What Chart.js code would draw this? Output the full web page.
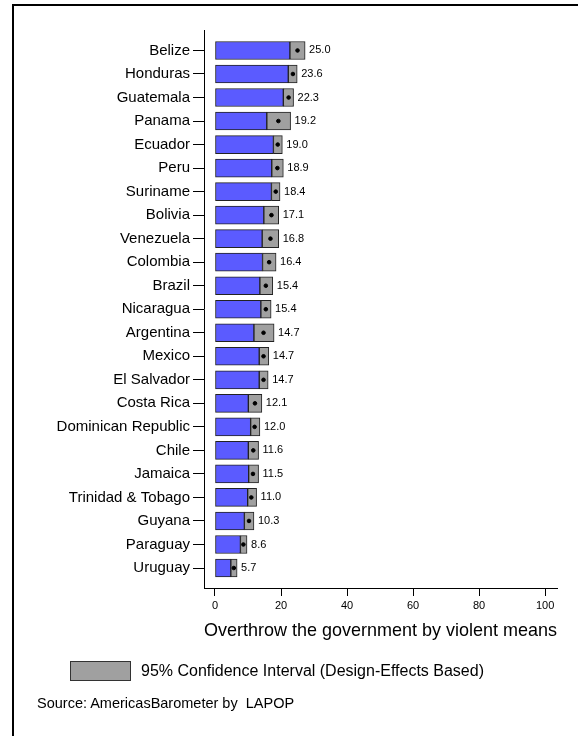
<!DOCTYPE html>
<html>
<head>
<meta charset="utf-8">
<script src="https://cdn.jsdelivr.net/npm/chart.js@4"></script>
<style>
  html, body { margin: 0; padding: 0; background: #fff; }
  body { width: 578px; height: 736px; position: relative; overflow: hidden;
         font-family: Arial, "Liberation Sans", sans-serif; color: #000; }
  #frame { position: absolute; left: 12px; top: 4px; width: 700px; height: 800px;
           border-left: 2px solid #000; border-top: 2px solid #000; }
  #wrap { position: absolute; left: 0; top: 0; width: 578px; height: 736px; }
  #legend { position: absolute; left: 70px; top: 661px; font-size: 16px; line-height: 19px; white-space: nowrap; }
  #legend .box { display: inline-block; width: 59px; height: 18px; background: #a0a0a0;
                 border: 1px solid #333; vertical-align: top; margin-right: 10px; }
  #source { position: absolute; left: 37px; top: 695px; font-size: 14.5px; white-space: nowrap; }
</style>
</head>
<body>
<div id="frame"></div>
<div id="wrap"><canvas id="ciChart" width="578" height="736"></canvas></div>
<div id="legend"><span class="box"></span>95% Confidence Interval (Design-Effects Based)</div>
<div id="source">Source: AmericasBarometer by&nbsp; LAPOP</div>
<script>
(function () {
    // データ
    const countries = [
        'Belize', 'Honduras', 'Guatemala', 'Panama', 'Ecuador', 'Peru',
        'Suriname', 'Bolivia', 'Venezuela', 'Colombia', 'Brazil', 'Nicaragua',
        'Argentina', 'Mexico', 'El Salvador', 'Costa Rica', 'Dominican Republic',
        'Chile', 'Jamaica', 'Trinidad & Tobago', 'Guyana', 'Paraguay', 'Uruguay',
    ];
    const means = [
        25.0, 23.6, 22.3, 19.2, 19.0, 18.9,
        18.4, 17.1, 16.8, 16.4, 15.4, 15.4,
        14.7, 14.7, 14.7, 12.1, 12.0,
        11.6, 11.5, 11.0, 10.3, 8.6, 5.7,
    ];
    const ciLow = [
        22.7, 22.2, 20.7, 15.7, 17.7, 17.2,
        17.1, 14.8, 14.3, 14.4, 13.6, 13.9,
        11.8, 13.4, 13.4, 10.1, 10.8,
        10.1, 10.2, 9.9, 8.9, 7.7, 4.8,
    ];
    const ciHigh = [
        27.3, 24.9, 23.8, 22.9, 20.4, 20.7,
        19.7, 19.3, 19.3, 18.5, 17.5, 17.0,
        17.9, 16.3, 16.1, 14.2, 13.6,
        13.2, 13.2, 12.6, 11.8, 9.7, 6.7,
    ];
    const xTicks = [0, 20, 40, 60, 80, 100];

    const FONT = 'Arial, "Liberation Sans", sans-serif';

    // 値ラベル
    const valueLabels = {
        id: 'valueLabels',
        afterDatasetsDraw(chart) {
            const { ctx, scales } = chart;
            ctx.save();
            ctx.font = '11px ' + FONT;
            ctx.fillStyle = '#000';
            ctx.textAlign = 'left';
            ctx.textBaseline = 'middle';
            means.forEach((m, i) => {
                const x = scales.x.getPixelForValue(ciHigh[i]) + 4;
                const y = scales.y.getPixelForValue(i);
                ctx.fillText(m.toFixed(1), x, y);
            });
            ctx.restore();
        },
    };

    // グラフ描画
    const ctx = document.getElementById('ciChart').getContext('2d');
    new Chart(ctx, {
        type: 'bar',
        data: {
            datasets: [
                {
                    // 平均値の点
                    type: 'scatter',
                    data: means.map((m, i) => ({ x: m, y: i })),
                    backgroundColor: '#000',
                    borderColor: '#000',
                    pointRadius: 1.8,
                    order: 0,
                },
                {
                    // 95% 信頼区間
                    data: ciLow.map((lo, i) => ({ y: i, x: [lo, ciHigh[i]] })),
                    backgroundColor: '#a0a0a0',
                    borderColor: '#222',
                    borderWidth: 1,
                    borderSkipped: false,
                    barThickness: 18,
                    grouped: false,
                    order: 1,
                },
                {
                    data: ciLow.map((lo, i) => ({ y: i, x: [0, lo] })),
                    backgroundColor: '#5b5bff',
                    borderColor: '#222',
                    borderWidth: 1,
                    borderSkipped: false,
                    barThickness: 18,
                    grouped: false,
                    order: 2,
                },
            ],
        },
        options: {
            indexAxis: 'y',
            responsive: false,
            animation: false,
            layout: { padding: { left: 0, top: 30, right: 21, bottom: 94 } },
            plugins: {
                legend: { display: false },
                tooltip: { enabled: false },
            },
            scales: {
                x: {
                    type: 'linear',
                    position: 'bottom',
                    offset: false,
                    min: -3.33,
                    max: 103.6,
                    afterBuildTicks: (scale) => {
                        scale.ticks = xTicks.map((v) => ({ value: v }));
                    },
                    afterFit: (scale) => { scale.height = 54; },
                    border: { display: true, color: '#000', width: 1 },
                    grid: {
                        offset: false, drawOnChartArea: false, drawTicks: true, tickLength: 8,
                        color: '#000', tickColor: '#000', tickWidth: 1,
                    },
                    ticks: { font: { family: FONT, size: 11 }, color: '#000', padding: 3, maxRotation: 0 },
                    title: {
                        display: true,
                        text: 'Overthrow the government by violent means',
                        font: { family: FONT, size: 19 },
                        color: '#000',
                        padding: { top: 2, bottom: 0 },
                    },
                },
                y: {
                    type: 'linear',
                    position: 'left',
                    offset: false,
                    reverse: true,
                    min: -0.87,
                    max: 22.85,
                    afterBuildTicks: (scale) => {
                        scale.ticks = countries.map((_, i) => ({ value: i }));
                    },
                    afterFit: (scale) => { scale.width = 204; },
                    border: { display: true, color: '#000', width: 1 },
                    grid: {
                        offset: false, drawOnChartArea: false, drawTicks: true, tickLength: 11,
                        color: '#000', tickColor: '#000', tickWidth: 1,
                    },
                    ticks: {
                        font: { family: FONT, size: 15 },
                        color: '#000',
                        padding: 3,
                        autoSkip: false,
                        callback: (v) => countries[v],
                    },
                },
            },
        },
        plugins: [valueLabels],
    });
})();
</script>
</body>
</html>
